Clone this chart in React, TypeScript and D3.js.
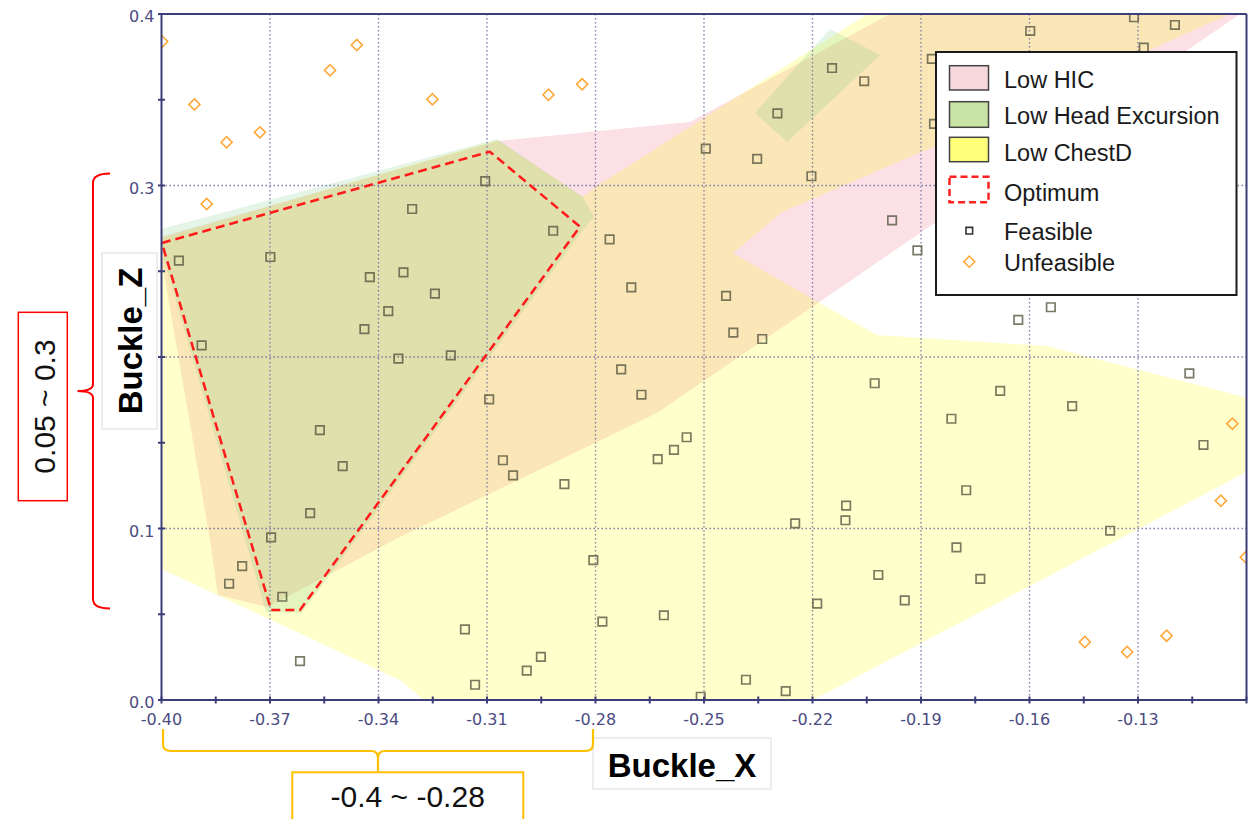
import React from 'react';
import * as d3 from 'd3';

// ---------- data ----------
const xMajorTicks = [-0.40, -0.37, -0.34, -0.31, -0.28, -0.25, -0.22, -0.19, -0.16, -0.13];
const xMinorTicks = [-0.385, -0.355, -0.325, -0.295, -0.265, -0.235, -0.205, -0.175, -0.145, -0.115, -0.10];
const yMajorTicks = [0.0, 0.1, 0.2, 0.3, 0.4];
const yMinorTicks = [0.05, 0.15, 0.25, 0.35];
const xGrid = [-0.37, -0.34, -0.31, -0.28, -0.25, -0.22, -0.19, -0.16, -0.13];
const yGrid = [0.1, 0.2, 0.3];

// Low HIC region
const hicRegion: [number, number][] = [
  [-0.4010, 0.2694], [-0.3072, 0.3259], [-0.2539, 0.3370], [-0.1944, 0.4047], [-0.0985, 0.4047],
  [-0.2630, 0.1673], [-0.3341, 0.0950], [-0.3617, 0.0641], [-0.3706, 0.0542], [-0.3844, 0.0612], [-0.3866, 0.0933],
];
// Low ChestD region
const chestRegion: [number, number][] = [
  [-0.4032, 0.2676], [-0.3072, 0.3265], [-0.2835, 0.2933], [-0.2796, 0.2997], [-0.2013, 0.4047], [-0.0996, 0.4047],
  [-0.1867, 0.3224], [-0.2284, 0.2845], [-0.2420, 0.2606], [-0.2185, 0.2321], [-0.2022, 0.2128], [-0.1552, 0.2064],
  [-0.0963, 0.1743], [-0.0963, 0.1370], [-0.2199, 0.0], [-0.2230, -0.008], [-0.3230, -0.008], [-0.3341, 0.0117],
  [-0.4032, 0.0795],
];
// Low Head Excursion regions
const headRegion: [number, number][] = [
  [-0.4010, 0.2741], [-0.3072, 0.3271], [-0.2835, 0.2933], [-0.2804, 0.2816], [-0.2837, 0.2735],
  [-0.3612, 0.0507], [-0.3711, 0.0513], [-0.4007, 0.2671],
];
const headRegion2: [number, number][] = [
  [-0.2152, 0.3913], [-0.2013, 0.3761], [-0.2270, 0.3254], [-0.2359, 0.3423],
];
// Optimum
const optimumRegion: [number, number][] = [
  [-0.3999, 0.2665], [-0.3092, 0.3197], [-0.2843, 0.2760], [-0.3617, 0.0525], [-0.3697, 0.0525],
];

const feasiblePoints: [number, number][] = [
  [-0.3952, 0.2562], [-0.3889, 0.2068], [-0.3699, 0.2583], [-0.3697, 0.0948], [-0.3777, 0.0781],
  [-0.3813, 0.0678], [-0.3666, 0.0602], [-0.3617, 0.0227], [-0.3589, 0.1090], [-0.3562, 0.1574],
  [-0.3499, 0.1364], [-0.3439, 0.2163], [-0.3424, 0.2466], [-0.3373, 0.2268], [-0.3345, 0.1991],
  [-0.3331, 0.2493], [-0.3307, 0.2863], [-0.3244, 0.2369], [-0.3200, 0.2010], [-0.3105, 0.3026],
  [-0.3094, 0.1753], [-0.3056, 0.1398], [-0.3028, 0.1310], [-0.2917, 0.2736], [-0.2886, 0.1259],
  [-0.2806, 0.0816], [-0.2781, 0.0457], [-0.2761, 0.2686], [-0.2729, 0.1928], [-0.2701, 0.2406],
  [-0.2673, 0.1780], [-0.2628, 0.1405], [-0.2583, 0.1458], [-0.2548, 0.1532], [-0.2611, 0.0494],
  [-0.2509, 0.0019], [-0.2495, 0.3215], [-0.2439, 0.2356], [-0.2419, 0.2142], [-0.2353, 0.3155],
  [-0.2339, 0.2105], [-0.2297, 0.3421], [-0.2384, 0.0118], [-0.2274, 0.0052], [-0.2248, 0.1030],
  [-0.2203, 0.3054], [-0.2187, 0.0562], [-0.2146, 0.3685], [-0.2107, 0.1133], [-0.2109, 0.1048],
  [-0.2057, 0.3608], [-0.2028, 0.1847], [-0.2018, 0.0729], [-0.1980, 0.2797], [-0.1945, 0.0581],
  [-0.1910, 0.2622], [-0.1870, 0.3738], [-0.1864, 0.3359], [-0.1816, 0.1640], [-0.1802, 0.0890],
  [-0.1775, 0.1223], [-0.1736, 0.0706], [-0.1681, 0.1803], [-0.1631, 0.2216], [-0.1598, 0.3901],
  [-0.1541, 0.2290], [-0.1482, 0.1714], [-0.1377, 0.0987], [-0.1311, 0.3981], [-0.1284, 0.3804],
  [-0.1198, 0.3936], [-0.1158, 0.1905], [-0.1119, 0.1487], [-0.3161, 0.0412], [-0.3133, 0.0089],
  [-0.2990, 0.0171], [-0.2951, 0.0251],
];

const unfeasiblePoints: [number, number][] = [
  [-0.3998, 0.3839], [-0.3909, 0.3473], [-0.3820, 0.3252], [-0.3728, 0.3310], [-0.3875, 0.2892],
  [-0.3534, 0.3672], [-0.3460, 0.3819], [-0.3251, 0.3503], [-0.2930, 0.3529], [-0.2837, 0.3590],
  [-0.1039, 0.1611], [-0.1071, 0.1162], [-0.1002, 0.0832], [-0.1447, 0.0338], [-0.1330, 0.0280],
  [-0.1221, 0.0375],
];

const legendItems = ['Low HIC', 'Low Head Excursion', 'Low ChestD', 'Optimum', 'Feasible', 'Unfeasible'];

// ---------- styles ----------
const NAVY = '#3d3d7a';
const LABEL = '#4b4b82';
const GRID = '#6e6ea6';
const SANS = '"Liberation Sans", Arial, Helvetica, sans-serif';
const TICKFONT = '"DejaVu Sans", Verdana, sans-serif';

export default function App() {
  const x = d3.scaleLinear().domain([-0.40, -0.10]).range([161.5, 1246.5]);
  const y = d3.scaleLinear().domain([0, 0.4]).range([700, 14]);
  const area = d3.line<[number, number]>().x(d => x(d[0])).y(d => y(d[1])).curve(d3.curveLinearClosed);
  const sq = d3.symbol().type(d3.symbolSquare).size(72)() as string;
  const dia = d3.symbol().type(d3.symbolSquare).size(62)() as string;
  const [x0, x1] = x.range();
  const [y0, y1] = y.range();

  return (
    <svg width={1253} height={819} style={{ position: 'absolute', left: 0, top: 0, background: '#fff' }}>
      <defs>
        <clipPath id="plotClip">
          <rect x={x0} y={y1} width={x1 - x0} height={y0 - y1} />
        </clipPath>
      </defs>
      <rect x={0} y={0} width={1253} height={819} fill="#fff" />

      <g clipPath="url(#plotClip)">
        <path d={area(hicRegion) as string} fill="rgb(240,130,150)" fillOpacity={0.25} />
        <path d={area(chestRegion) as string} fill="#ffff00" fillOpacity={0.2} />
        <path d={area(headRegion) as string} fill="rgb(120,200,130)" fillOpacity={0.2} />
        <path d={area(headRegion2) as string} fill="rgb(120,200,130)" fillOpacity={0.2} />

        {xGrid.map(v => (
          <line key={'gx' + v} x1={x(v)} x2={x(v)} y1={y1} y2={y0} stroke={GRID} strokeWidth={1.3}
            strokeDasharray="1.5 2.5" opacity={0.9} />
        ))}
        {yGrid.map(v => (
          <line key={'gy' + v} x1={x0} x2={x1} y1={y(v)} y2={y(v)} stroke={GRID} strokeWidth={1.3}
            strokeDasharray="1.5 2.5" opacity={0.9} />
        ))}

        {feasiblePoints.map((p, i) => (
          <path key={'f' + i} d={sq} transform={`translate(${x(p[0])},${y(p[1])})`} fill="none"
            stroke="#55553f" strokeOpacity={0.78} strokeWidth={1.7} />
        ))}
        {unfeasiblePoints.map((p, i) => (
          <path key={'u' + i} d={dia} transform={`translate(${x(p[0])},${y(p[1])}) rotate(45)`} fill="none"
            stroke="#ffa83a" strokeWidth={1.6} />
        ))}

        <path d={area(optimumRegion) as string} fill="none" stroke="#ff1a1a" strokeWidth={2.5}
          strokeDasharray="9 5" strokeLinejoin="round" />
      </g>

      {/* frame + axes */}
      <line x1={x0} x2={x1} y1={y1} y2={y1} stroke={NAVY} strokeWidth={2} />
      <line x1={x1} x2={x1} y1={y1} y2={y0} stroke={NAVY} strokeWidth={2} />
      <line x1={x0} x2={x1} y1={y0} y2={y0} stroke={NAVY} strokeWidth={2} />
      <line x1={x0} x2={x0} y1={y1} y2={y0} stroke={NAVY} strokeWidth={2} />

      {[...xMajorTicks, ...xMinorTicks].map(v => (
        <line key={'tx' + v} x1={x(v)} x2={x(v)} y1={y0 - 3.5} y2={y0 + 3.5} stroke={NAVY} strokeWidth={2} />
      ))}
      {[...yMajorTicks, ...yMinorTicks].map(v => (
        <line key={'ty' + v} x1={x0 - 3.5} x2={x0 + 3.5} y1={y(v)} y2={y(v)} stroke={NAVY} strokeWidth={2} />
      ))}
      {xMajorTicks.map(v => (
        <text key={'lx' + v} x={x(v)} y={725} textAnchor="middle" fontFamily={TICKFONT} fontSize={16} fill={LABEL}>
          {v.toFixed(2)}
        </text>
      ))}
      {yMajorTicks.map(v => (
        <text key={'ly' + v} x={154.5} y={y(v) + 8.3} textAnchor="end" fontFamily={TICKFONT} fontSize={16} fill={LABEL}>
          {v.toFixed(1)}
        </text>
      ))}

      {/* legend */}
      <g>
        <rect x={936} y={52} width={300.5} height={243} fill="#fff" stroke="#1a1a1a" strokeWidth={2} />
        <rect x={949.5} y={65.7} width={39} height={24.3} fill="#f5d7dc" stroke="#444" strokeWidth={1.5} />
        <rect x={949.5} y={101.7} width={39} height={25.6} fill="#c8e4a5" stroke="#444" strokeWidth={1.5} />
        <rect x={949.5} y={137.3} width={39} height={24.4} fill="#ffff7a" stroke="#444" strokeWidth={1.5} />
        <rect x={949.5} y={176.7} width={39} height={25.6} fill="none" stroke="#ff2020" strokeWidth={2.5}
          strokeDasharray="7 4" />
        <path d={d3.symbol().type(d3.symbolSquare).size(44)() as string} transform="translate(969.3,230.7)"
          fill="none" stroke="#333" strokeWidth={1.6} />
        <path d={dia} transform="translate(969.3,261.7) rotate(45)" fill="none" stroke="#ffa83a" strokeWidth={1.5} />
        {legendItems.map((t, i) => (
          <text key={t} x={1004} y={[88.3, 124, 160.7, 200.7, 240, 270.5][i]} fontFamily={SANS} fontSize={23.5}
            fill="#1a1a1a">{t}</text>
        ))}
      </g>

      {/* annotations */}
      <rect x={102} y={253} width={55} height={176} fill="#fff" stroke="#dcdcdc" strokeWidth={1} />
      <text transform="translate(141.7,341) rotate(-90)" textAnchor="middle" fontFamily={SANS} fontWeight="bold"
        fontSize={33} fill="#000">Buckle_Z</text>

      <rect x={593} y={738} width={178} height={51} fill="#fff" stroke="#dcdcdc" strokeWidth={1} />
      <text x={682} y={776.7} textAnchor="middle" fontFamily={SANS} fontWeight="bold" fontSize={33} fill="#000">
        Buckle_X
      </text>

      <path d="M110,173.5 Q93,173.5 93,183 L93,384 Q93,391 77.5,391 Q93,391 93,398 L93,599 Q93,608.5 110,608.5"
        fill="none" stroke="#ff0000" strokeWidth={2} />
      <rect x={18.3} y={312.3} width={49} height={188.4} fill="#fff" stroke="#ff0000" strokeWidth={1.5} />
      <text transform="translate(54.5,406.5) rotate(-90)" textAnchor="middle" fontFamily={SANS} fontSize={30}
        fill="#111">0.05 ~ 0.3</text>

      <path d="M163,729 L163,744 Q163,751 171,751 L371,751 Q378,751 378,758 L378,772 M378,758 Q378,751 385,751 L585,751 Q593,751 593,744 L593,729"
        fill="none" stroke="#ffc000" strokeWidth={2.2} />
      <rect x={292.3} y={772.3} width={231} height={60} fill="#fff" stroke="#ffc000" strokeWidth={2} />
      <text x={407.7} y={806.7} textAnchor="middle" fontFamily={SANS} fontSize={30} fill="#111">-0.4 ~ -0.28</text>
    </svg>
  );
}
